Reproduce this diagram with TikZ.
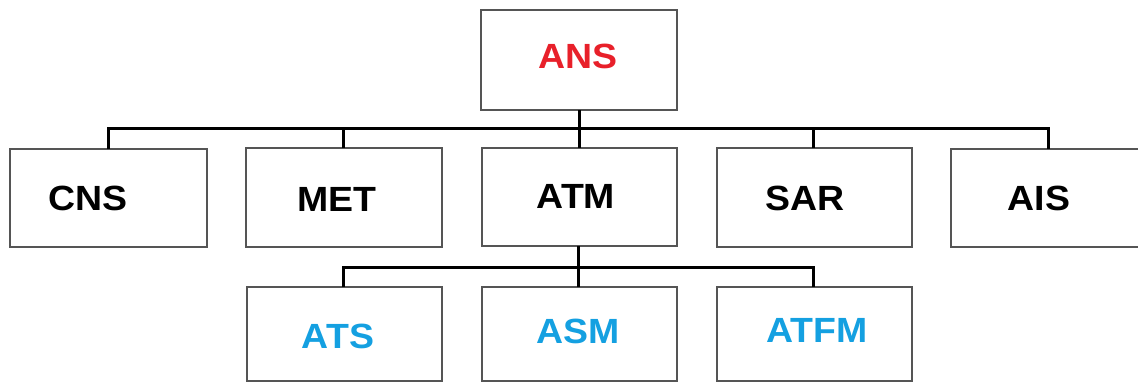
\documentclass[tikz,border=0pt]{standalone}
\usepackage{fontspec}
\setmainfont{Liberation Sans}
\definecolor{ansred}{RGB}{232,32,42}
\definecolor{atmblue}{RGB}{20,160,225}
\definecolor{boxgray}{RGB}{85,85,85}
\begin{document}
\begin{tikzpicture}[x=1pt,y=-1pt,
  box/.style={draw=boxgray,line width=2.2pt,fill=white},
  lbl/.style={inner sep=0pt,font=\fontsize{35}{40}\selectfont\bfseries,xscale=1.07},
  conn/.style={draw=black,line width=3pt}]
\useasboundingbox (0,0) rectangle (1138,383);
% boxes
\draw[box] (481,10) rectangle (677,110);
\draw[box] (10,149) rectangle (207,247);
\draw[box] (246,148) rectangle (442,247);
\draw[box] (482,148) rectangle (677,246);
\draw[box] (717,148) rectangle (912,247);
\draw[box] (951,149) rectangle (1150,247);
\draw[box] (247,287) rectangle (442,381);
\draw[box] (482,287) rectangle (677,381);
\draw[box] (717,287) rectangle (912,381);
% anchor coordinates
\coordinate (ansb) at (579,110);
\coordinate (cnst) at (108,149);
\coordinate (mett) at (343,148);
\coordinate (atmt) at (579,148);
\coordinate (sart) at (813,148);
\coordinate (aist) at (1048,149);
\coordinate (atmb) at (578,246);
\coordinate (atst) at (343,287);
\coordinate (asmt) at (578,287);
\coordinate (atfmt) at (813,287);
% connectors
\draw[conn] (ansb) -- (atmt);
\draw[conn] (cnst) |- (579,128) -| (aist);
\draw[conn] (mett) -- (343,128);
\draw[conn] (sart) -- (813,128);
\draw[conn] (atmb) -- (asmt);
\draw[conn] (atst) |- (578,267) -| (atfmt);
% labels
\node[lbl,text=ansred] (ans) at (578,56) {ANS};
\node[lbl] (cns) at (88,198) {CNS};
\node[lbl] (met) at (337,199) {MET};
\node[lbl] (atm) at (576,196) {ATM};
\node[lbl] (sar) at (805,198) {SAR};
\node[lbl] (ais) at (1039,198) {AIS};
\node[lbl,text=atmblue] (ats) at (338,336) {ATS};
\node[lbl,text=atmblue] (asm) at (578,331) {ASM};
\node[lbl,text=atmblue] (atfm) at (817,330) {ATFM};
\end{tikzpicture}
\end{document}
